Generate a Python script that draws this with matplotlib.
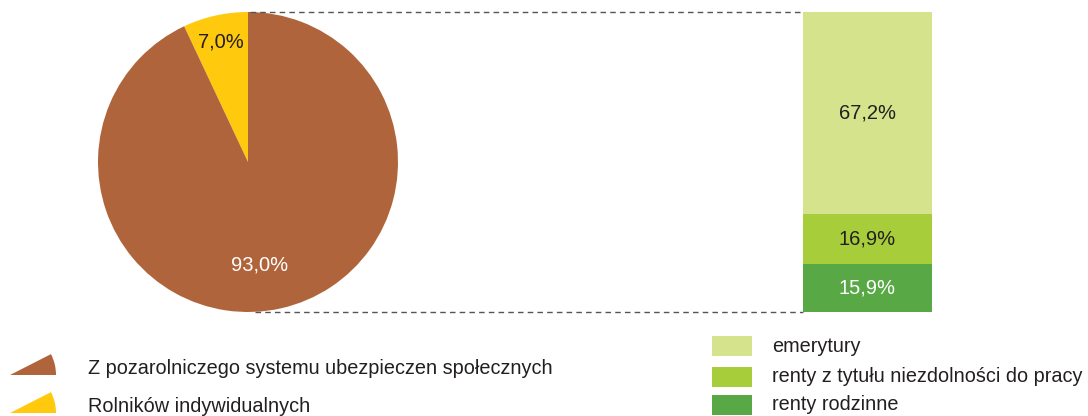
import matplotlib.pyplot as plt
from matplotlib.patches import Wedge, Rectangle
import numpy as np

plt.rcParams['font.family'] = ['Liberation Sans', 'DejaVu Sans']

# pie: source of pensions
pie_labels = ['Rolników indywidualnych', 'Z pozarolniczego systemu ubezpieczen społecznych']
pie_values = [7.0, 93.0]
pie_colors = ['#FFC90E', '#B0643C']

# stacked bar: structure of the non-agricultural part
bar_labels = ['renty rodzinne', 'renty z tytułu niezdolności do pracy', 'emerytury']
bar_values = [15.9, 16.9, 67.2]
bar_colors = ['#58A846', '#A8CD3A', '#D4E38C']
bar_text_colors = ['white', '#231F20', '#231F20']

W, H = 1088, 416
fig = plt.figure(figsize=(W / 100, H / 100), dpi=100)
ax = fig.add_axes([0, 0, 1, 1])

txt = '#231F20'
fs = 14.5
fs_leg = 14.3

# pie, centre and radius in pixel units
cx, cy, r = 248, 254, 150
wedges, _ = ax.pie(pie_values, colors=pie_colors, startangle=90, counterclock=True,
                   center=(cx, cy), radius=r, wedgeprops=dict(linewidth=0))
ax.text(221, 416 - 42, '7,0%', ha='center', va='center', fontsize=fs, color=txt)
ax.text(260, 416 - 265, '93,0%', ha='center', va='center', fontsize=fs, color='white')

# stacked bar, 100% = 300 px
scale = 300 / 100
bx, bw = 867.5, 129
bottom = 104
for v, c, tc in zip(bar_values, bar_colors, bar_text_colors):
    ax.bar(bx, v * scale, bottom=bottom, width=bw, color=c, linewidth=0)
    ax.text(bx, bottom + v * scale / 2, f'{v:.1f}'.replace('.', ',') + '%',
            ha='center', va='center', fontsize=fs, color=tc)
    bottom += v * scale

# dashed connectors
ax.plot([250, 803], [404, 404], ls=(0, (4, 3)), color='#555555', lw=1)
ax.plot([255, 803], [104, 104], ls=(0, (4, 3)), color='#555555', lw=1)

# left legend with wedge markers
for lab, c, yb in [(pie_labels[1], pie_colors[1], 416 - 375),
                   (pie_labels[0], pie_colors[0], 416 - 413)]:
    ax.add_patch(Wedge((10, yb), 46, 0, 27, color=c, linewidth=0))
    ax.text(88, yb + 7, lab, ha='left', va='center', fontsize=fs_leg, color=txt)

# right legend with squares
for lab, c, yc in [(bar_labels[2], bar_colors[2], 416 - 346),
                   (bar_labels[1], bar_colors[1], 416 - 377),
                   (bar_labels[0], bar_colors[0], 416 - 405)]:
    ax.add_patch(Rectangle((712, yc - 10), 40, 20, color=c, linewidth=0))
    ax.text(772, yc, lab, ha='left', va='center', fontsize=fs_leg, color=txt)

ax.set_xlim(0, W)
ax.set_ylim(0, H)
ax.set_aspect('auto')
ax.axis('off')

fig.savefig('out.png', dpi=100)
